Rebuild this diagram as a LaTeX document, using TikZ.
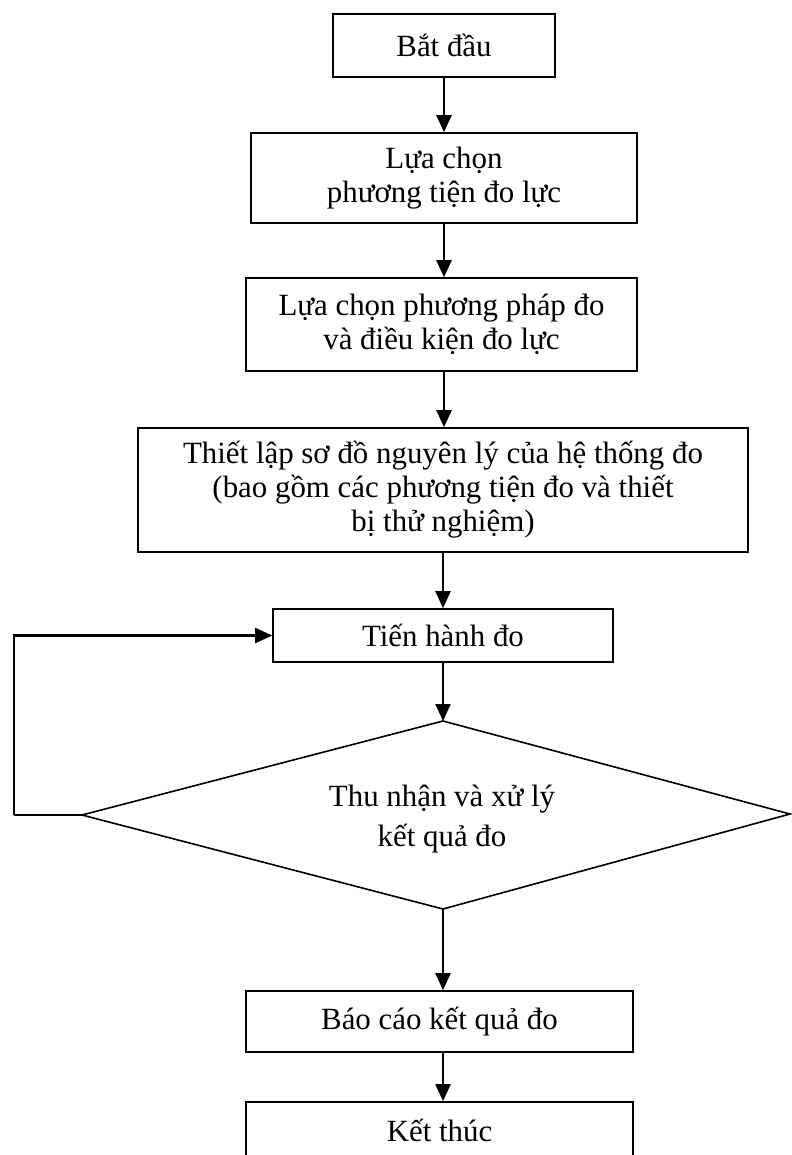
\documentclass[tikz,border=0pt]{standalone}
\usepackage{fontspec}
\setmainfont{Liberation Serif}
\usetikzlibrary{arrows.meta}
\begin{document}
\begin{tikzpicture}[x=1bp,y=-1bp,
  box/.style={draw, line width=1.6bp, inner sep=0pt, align=center,
    font=\fontsize{31}{34}\selectfont},
  flow/.style={line width=2.2bp, -{Triangle[width=15bp,length=17bp]}},
  edge/.style={line width=1.6bp, line join=miter}]
\clip (0,0) rectangle (792,1155);
\fill[white] (0,0) rectangle (792,1155);

% process steps
\node[box, minimum width=222bp, minimum height=63bp] (b1) at (444,45.5) {Bắt đầu};
\node[box, minimum width=386bp, minimum height=90bp] (b2) at (444,178) {Lựa chọn\\phương tiện đo lực};
\node[box, minimum width=391bp, minimum height=93bp] (b3) at (441.5,324.5) {Lựa chọn phương pháp đo\\và điều kiện đo lực};
\node[box, minimum width=610bp, minimum height=124bp] (b4) at (443,490) {Thiết lập sơ đồ nguyên lý của hệ thống đo\\(bao gồm các phương tiện đo và thiết\\bị thử nghiệm)};
\node[box, minimum width=340bp, minimum height=53bp] (b5) at (443,635.5) {Tiến hành đo};

% decision
\coordinate (dL) at (82,815);
\coordinate (dT) at (443,721);
\coordinate (dR) at (790,814);
\coordinate (dB) at (443,909);
\draw[edge] (dL) -- (dT) -- (dR) -- (dB) -- cycle;
\node[align=center, inner sep=0pt, font=\fontsize{31}{41}\selectfont] (dtext) at (442,819) {Thu nhận và xử lý\\kết quả đo};

\node[box, minimum width=387bp, minimum height=61bp] (b6) at (439.5,1021.5) {Báo cáo kết quả đo};
\node[box, minimum width=387bp, minimum height=56bp] (b7) at (439.5,1130) {Kết thúc};

% connectors
\draw[flow] (b1.south) -- (b1.south |- b2.north);
\draw[flow] (b2.south) -- (b2.south |- b3.north);
\draw[flow] (b3.south -| b1.south) -- (b1.south |- b4.north);
\draw[flow] (b4.south) -- (b4.south |- b5.north);
\draw[flow] (b5.south) -- (b5.south |- dT);
\draw[flow] (dB) -- (dB |- b6.north);
\draw[flow] (b6.south -| dB) -- (dB |- b7.north);

% feedback loop
\coordinate (lp) at (14,815);
\draw[edge] (dL) -- (lp);
\draw[flow] (lp) |- (b5.west);
\end{tikzpicture}
\end{document}
